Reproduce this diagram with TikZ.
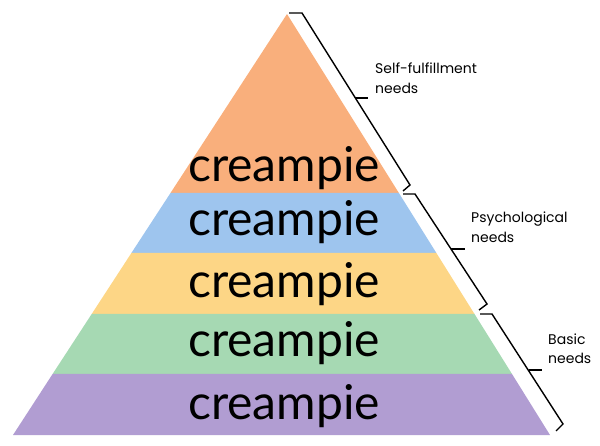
\documentclass[tikz,border=0pt]{standalone}
\usepackage{fontspec}
\newfontfamily\latofont{Lato}
\newfontfamily\labfont{Poppins}
\begin{document}
\begin{tikzpicture}[x=1pt,y=-1pt,
  word/.style={font=\latofont\fontsize{48}{48}\selectfont, anchor=base, inner sep=0pt},
  lab/.style={font=\labfont\fontsize{14}{20}\selectfont, anchor=base west, align=left, inner sep=0pt},
  brace/.style={draw=black, line width=1.4pt, line join=miter}]
\useasboundingbox (0,0) rectangle (600,446);
\definecolor{cOrange}{HTML}{F9AF7C}
\definecolor{cBlue}{HTML}{9EC5EE}
\definecolor{cYellow}{HTML}{FDD686}
\definecolor{cGreen}{HTML}{A6D9B3}
\definecolor{cPurple}{HTML}{B19DD2}
% pyramid corners
\coordinate (apex) at (287,14);
\coordinate (l1) at (170.5,193); \coordinate (r1) at (398.9,193);
\coordinate (l2) at (131.4,253); \coordinate (r2) at (436.4,253);
\coordinate (l3) at (91.7,314);  \coordinate (r3) at (474.5,314);
\coordinate (l4) at (52.6,374);  \coordinate (r4) at (512,374);
\coordinate (l5) at (13,435);    \coordinate (r5) at (550,435);
\fill[cOrange] (apex) -- (r1) -- (l1) -- cycle;
\fill[cBlue] (l1) -- (r1) -- (r2) -- (l2) -- cycle;
\fill[cYellow] (l2) -- (r2) -- (r3) -- (l3) -- cycle;
\fill[cGreen] (l3) -- (r3) -- (r4) -- (l4) -- cycle;
\fill[cPurple] (l4) -- (r4) -- (r5) -- (l5) -- cycle;
% band texts
\node[word] (w1) at (284,182) {creampie};
\node[word] (w2) at (284,236) {creampie};
\node[word] (w3) at (284,298) {creampie};
\node[word] (w4) at (284,356) {creampie};
\node[word] (w5) at (284,420) {creampie};
% braces
\coordinate (a0) at (289,13); \coordinate (a1) at (302,13); \coordinate (a2) at (410,185); \coordinate (a3) at (403,191);
\coordinate (am) at (355,98); \coordinate (at) at (368,98);
\coordinate (b0) at (403,194); \coordinate (b1) at (415,194); \coordinate (b2) at (487,304); \coordinate (b3) at (479,310);
\coordinate (bm) at (451,249); \coordinate (bt) at (465,249);
\coordinate (c0) at (480,314); \coordinate (c1) at (492,314); \coordinate (c2) at (563,424); \coordinate (c3) at (556,431);
\coordinate (cm) at (528.5,370); \coordinate (ct) at (542,370);
\draw[brace] (a0) -- (a1) -- (a2) -- (a3);
\draw[brace] (am) -- (at);
\draw[brace] (b0) -- (b1) -- (b2) -- (b3);
\draw[brace] (bm) -- (bt);
\draw[brace] (c0) -- (c1) -- (c2) -- (c3);
\draw[brace] (cm) -- (ct);
% labels
\node[lab] (t1) at (375,94) {Self-fulfillment\\needs};
\node[lab] (t2) at (471,243) {Psychological\\needs};
\node[lab] (t3) at (548,364) {Basic\\needs};
\end{tikzpicture}
\end{document}
